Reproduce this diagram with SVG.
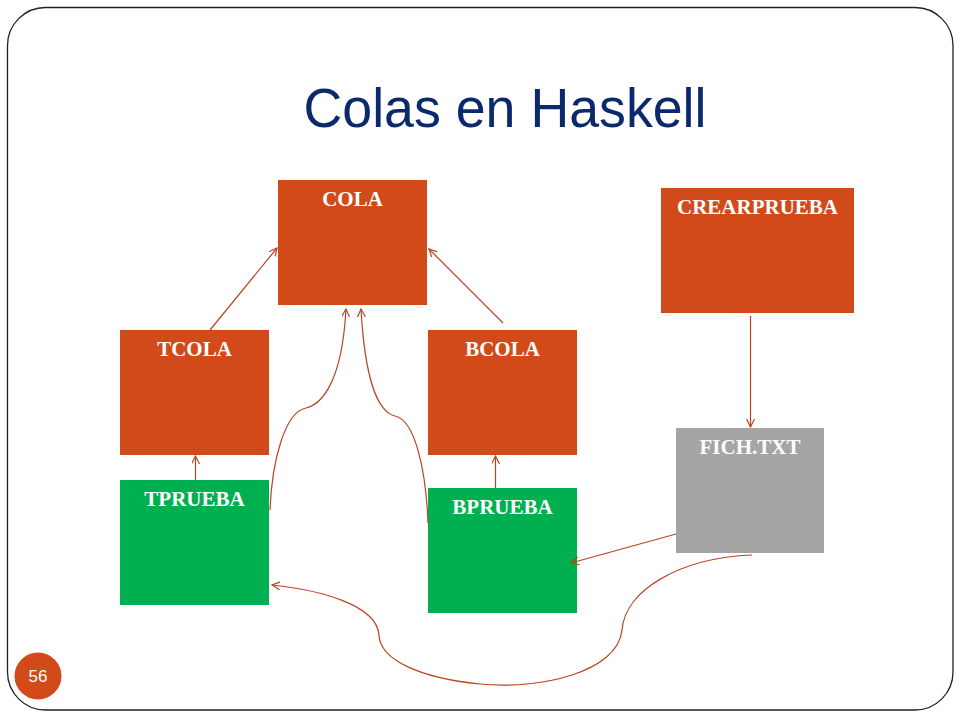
<svg xmlns="http://www.w3.org/2000/svg" width="960" height="720" viewBox="0 0 960 720">
<style>
.box{stroke:none}
.orange{fill:#d24a19}
.green{fill:#00b050}
.gray{fill:#a5a5a5}
.lbl{font-family:"Liberation Serif","Times New Roman",serif;font-weight:bold;font-size:21px;fill:#ffffff;text-anchor:middle}
.conn{fill:none;stroke:#b9441f;stroke-width:1.2}
</style>
<defs>
<marker id="arr" markerWidth="10" markerHeight="10" refX="8" refY="4" orient="auto" markerUnits="userSpaceOnUse">
<path d="M0,0 L8,4 L0,8" fill="none" stroke="#b9441f" stroke-width="1.2"/>
</marker>
</defs>
<rect x="0" y="0" width="960" height="720" fill="#ffffff"/>
<rect x="7.5" y="7.5" width="945.5" height="702.5" rx="38" ry="38" fill="none" stroke="#222222" stroke-width="1.3"/>
<text x="505" y="127" font-family="'Liberation Sans',Arial,sans-serif" font-size="56" fill="#0b2a6b" text-anchor="middle" textLength="403" lengthAdjust="spacingAndGlyphs">Colas en Haskell</text>

<g id="COLA"><rect class="box orange" x="278" y="180" width="149" height="125"/><text class="lbl" x="352.5" y="206">COLA</text></g>
<g id="TCOLA"><rect class="box orange" x="120" y="330" width="149" height="125"/><text class="lbl" x="194.5" y="356">TCOLA</text></g>
<g id="BCOLA"><rect class="box orange" x="428" y="330" width="149" height="125"/><text class="lbl" x="502.5" y="356">BCOLA</text></g>
<g id="TPRUEBA"><rect class="box green" x="120" y="480" width="149" height="125"/><text class="lbl" x="194.5" y="506">TPRUEBA</text></g>
<g id="BPRUEBA"><rect class="box green" x="428" y="488" width="149" height="125"/><text class="lbl" x="502.5" y="514">BPRUEBA</text></g>
<g id="CREARPRUEBA"><rect class="box orange" x="661" y="188" width="193" height="125"/><text class="lbl" x="757.5" y="214">CREARPRUEBA</text></g>
<g id="FICH_TXT"><rect class="box gray" x="676" y="428" width="148" height="125"/><text class="lbl" x="750" y="454" fill="#f2f2f2">FICH.TXT</text></g>

<g id="connectors">
<line class="conn" x1="210" y1="330" x2="277" y2="248" marker-end="url(#arr)"/>
<line class="conn" x1="503" y1="323" x2="429" y2="249" marker-end="url(#arr)"/>
<line class="conn" x1="195.5" y1="480" x2="195.5" y2="456" marker-end="url(#arr)"/>
<line class="conn" x1="495.5" y1="488" x2="495.5" y2="456" marker-end="url(#arr)"/>
<line class="conn" x1="750.5" y1="316" x2="750.5" y2="427" marker-end="url(#arr)"/>
<path class="conn" d="M270,510 C272,460 285,412 306,408 C322,404 342,382 346,309" marker-end="url(#arr)"/>
<path class="conn" d="M428,523 C426,470 415,420 395,416 C378,412 365,380 361,309" marker-end="url(#arr)"/>
<line class="conn" x1="676" y1="534" x2="571" y2="563" marker-end="url(#arr)"/>
<path class="conn" d="M752,555 C680,558 625,590 622,630 C618,672 540,690 480,684 C420,678 380,660 379,635 C377,605 320,590 272,585" marker-end="url(#arr)"/>
</g>

<g id="badge"><circle cx="38" cy="676" r="23.5" fill="#d24a19"/><text x="38" y="682" font-family="'Liberation Sans',Arial,sans-serif" font-size="17" fill="#ffffff" text-anchor="middle">56</text></g>
</svg>
